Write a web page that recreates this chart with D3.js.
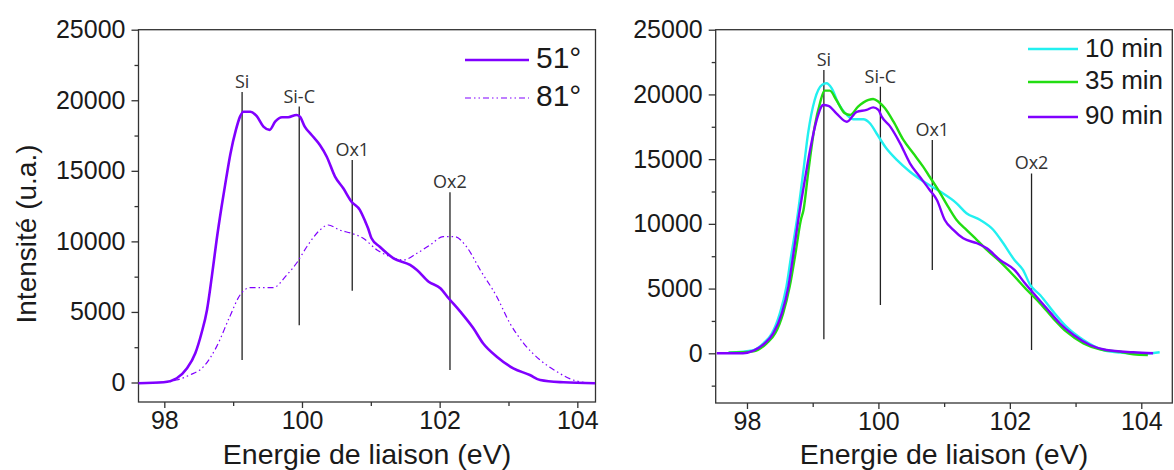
<!DOCTYPE html>
<html>
<head>
<meta charset="utf-8">
<script src="https://cdn.jsdelivr.net/npm/d3@7"></script>
<style>
  html, body { margin: 0; padding: 0; background: #fff; }
  svg { display: block; }
  text { font-family: "Liberation Sans", Arial, sans-serif; fill: #1a1a1a; }
  .annot { font-family: "Open Sans", "Noto Sans", sans-serif; fill: #333; }
</style>
</head>
<body>
<svg id="chart" width="1174" height="470"></svg>
<script>
// ---------- Data ----------
const xTicks = [98, 100, 102, 104];
const xMinorTicks = [99, 101, 103];
const yTicks = [0, 5000, 10000, 15000, 20000, 25000];
const yMinorTicksLeft = [2500, 7500, 12500, 17500, 22500];
const yMinorTicksRight = [-2500, 2500, 7500, 12500, 17500, 22500];

const leftSeriesNames = ["51°", "81°"];
const rightSeriesNames = ["10 min", "35 min", "90 min"];

// Left panel, 51°
const e51 = [97.62, 97.99, 98.18, 98.33, 98.45, 98.54, 98.62, 98.69, 98.76, 98.83, 98.90, 98.96, 99.04, 99.10, 99.15, 99.25, 99.34, 99.44, 99.53, 99.61, 99.71, 99.80, 99.92, 99.97, 100.04, 100.14, 100.26, 100.36, 100.48, 100.60, 100.72, 100.84, 100.92, 100.96, 101.01, 101.13, 101.33, 101.57, 101.67, 101.84, 102.01, 102.13, 102.30, 102.49, 102.63, 102.83, 103.07, 103.31, 103.46, 103.80, 104.26];
const i51 = [-50, 14, 300, 1006, 2070, 3490, 5140, 7500, 10100, 12400, 14500, 16200, 17900, 18840, 19190, 19190, 18890, 18130, 17900, 18480, 18800, 18800, 18960, 18840, 18130, 17540, 16830, 16000, 14590, 13760, 12810, 12230, 11400, 10930, 10220, 9620, 8800, 8330, 7970, 7140, 6680, 5970, 5020, 3840, 2780, 1830, 1006, 530, 177, 14, -57];

// Left panel, 81°
const e81 = [97.62, 97.99, 98.18, 98.37, 98.57, 98.76, 98.95, 99.10, 99.25, 99.58, 99.78, 99.92, 100.07, 100.26, 100.38, 100.55, 100.72, 100.89, 101.09, 101.28, 101.47, 101.67, 101.86, 102.05, 102.22, 102.39, 102.59, 102.83, 103.02, 103.22, 103.46, 103.70, 103.94, 104.23];
const i81 = [-30, 20, 177, 530, 1120, 2540, 4660, 6200, 6720, 6720, 7620, 8450, 9620, 10800, 11160, 10800, 10570, 10220, 9390, 8920, 8680, 9160, 9740, 10330, 10330, 9620, 7970, 6080, 4200, 2780, 1590, 770, 177, -57];

// Right panel, 10 min
const e10 = [97.72, 98.10, 98.25, 98.38, 98.50, 98.60, 98.67, 98.76, 98.86, 98.93, 99.03, 99.14, 99.21, 99.29, 99.39, 99.52, 99.62, 99.77, 99.87, 99.97, 100.12, 100.28, 100.48, 100.73, 100.94, 101.19, 101.34, 101.55, 101.75, 101.90, 102.07, 102.20, 102.31, 102.46, 102.66, 102.86, 103.12, 103.42, 103.68, 103.98, 104.28];
const i10 = [50, 250, 770, 1545, 3090, 5150, 7460, 10300, 14160, 17000, 19570, 20730, 20860, 20470, 19310, 18410, 18080, 18080, 17770, 17000, 15840, 14940, 14030, 13130, 12490, 11590, 10820, 10300, 9530, 8500, 7210, 6440, 5280, 4500, 3220, 2060, 1030, 255, 50, -50, 80];

// Right panel, 35 min
const e35 = [97.72, 98.10, 98.30, 98.43, 98.55, 98.65, 98.73, 98.82, 98.86, 98.93, 99.03, 99.11, 99.18, 99.26, 99.36, 99.49, 99.57, 99.69, 99.85, 99.92, 100.00, 100.10, 100.23, 100.38, 100.53, 100.68, 100.78, 100.91, 101.06, 101.19, 101.34, 101.50, 101.65, 101.85, 102.05, 102.26, 102.46, 102.66, 102.86, 103.12, 103.37, 103.68, 103.88, 104.10];
const i35 = [50, 150, 770, 1545, 3090, 5150, 7460, 10300, 11070, 13900, 17510, 19310, 20290, 20290, 19570, 18540, 18410, 19050, 19570, 19650, 19440, 18930, 17890, 16480, 15450, 14420, 13640, 12620, 11330, 10300, 9530, 8750, 7980, 7080, 6050, 4890, 3860, 2700, 1670, 770, 310, 120, -77, -130];

// Right panel, 90 min
const e90 = [97.54, 97.94, 98.10, 98.27, 98.40, 98.53, 98.63, 98.70, 98.78, 98.88, 98.96, 99.06, 99.16, 99.24, 99.36, 99.52, 99.67, 99.82, 99.92, 100.00, 100.05, 100.18, 100.33, 100.48, 100.63, 100.78, 100.89, 101.01, 101.14, 101.29, 101.50, 101.65, 101.85, 102.07, 102.23, 102.36, 102.56, 102.76, 102.97, 103.22, 103.47, 103.88, 104.18];
const i90 = [0, 0, 200, 770, 1545, 3090, 5150, 7460, 10300, 13390, 15710, 18020, 19180, 19110, 18540, 17890, 18660, 18800, 19000, 18800, 18280, 17510, 16220, 14680, 13640, 12620, 11840, 10300, 9530, 8880, 8500, 8110, 7210, 6440, 5410, 4640, 3480, 2320, 1410, 640, 255, 77, 0];

// Peak markers: label, energy, top and bottom intensity
const peakLabels = ["Si", "Si-C", "Ox1", "Ox2"];
const peakEnergyLeft = [99.13, 99.96, 100.73, 102.15];
const peakTopLeft = [20590, 19550, 15770, 13480];
const peakBottomLeft = [1600, 4050, 6500, 890];
const peakEnergyRight = [99.17, 100.03, 100.82, 102.33];
const peakTopRight = [21890, 20600, 16480, 13900];
const peakBottomRight = [1080, 3730, 6440, 260];

// ---------- Drawing ----------
const svg = d3.select("#chart");
const PURPLE = "#8000ff", CYAN = "#22f0f0", GREEN = "#22dd11";
const TICK_FS = 25;

function makePanel(cfg) {
  const g = svg.append("g");
  const x = d3.scaleLinear().domain(cfg.xDomain).range([cfg.x0, cfg.x1]);
  const y = d3.scaleLinear().domain(cfg.yDomain).range([cfg.y1, cfg.y0]);

  // frame
  g.append("rect").attr("x", cfg.x0).attr("y", cfg.y0)
    .attr("width", cfg.x1 - cfg.x0).attr("height", cfg.y1 - cfg.y0)
    .attr("fill", "none").attr("stroke", "#333").attr("stroke-width", 1.3);

  // x axis
  const xa = g.append("g").attr("transform", `translate(0,${cfg.y1})`)
    .call(d3.axisBottom(x).tickValues(xTicks).tickSize(6).tickPadding(3).tickFormat(d3.format("d")));
  xa.select(".domain").remove();
  xa.selectAll("line").attr("stroke", "#333").attr("stroke-width", 1.3);
  xa.selectAll("text").attr("font-size", TICK_FS).attr("font-family", "Liberation Sans, Arial, sans-serif").attr("fill", "#1a1a1a");
  const xm = g.append("g").attr("transform", `translate(0,${cfg.y1})`)
    .call(d3.axisBottom(x).tickValues(xMinorTicks).tickSize(4).tickFormat(""));
  xm.select(".domain").remove();
  xm.selectAll("line").attr("stroke", "#333").attr("stroke-width", 1.3);

  // y axis
  const ya = g.append("g").attr("transform", `translate(${cfg.x0},0)`)
    .call(d3.axisLeft(y).tickValues(yTicks).tickSize(7).tickPadding(6).tickFormat(d3.format("d")));
  ya.select(".domain").remove();
  ya.selectAll("line").attr("stroke", "#333").attr("stroke-width", 1.3);
  ya.selectAll("text").attr("font-size", TICK_FS).attr("font-family", "Liberation Sans, Arial, sans-serif").attr("fill", "#1a1a1a");
  const ym = g.append("g").attr("transform", `translate(${cfg.x0},0)`)
    .call(d3.axisLeft(y).tickValues(cfg.yMinor).tickSize(4).tickFormat(""));
  ym.select(".domain").remove();
  ym.selectAll("line").attr("stroke", "#333").attr("stroke-width", 1.3);

  // x title
  g.append("text").attr("x", (cfg.x0 + cfg.x1) / 2).attr("y", 464)
    .attr("text-anchor", "middle").attr("font-size", 28.5)
    .text("Energie de liaison (eV)");

  // clip
  const clipId = "clip" + cfg.id;
  svg.append("clipPath").attr("id", clipId).append("rect")
    .attr("x", cfg.x0).attr("y", cfg.y0).attr("width", cfg.x1 - cfg.x0).attr("height", cfg.y1 - cfg.y0);

  const line = d3.line().x(d => x(d[0])).y(d => y(d[1])).curve(d3.curveMonotoneX);
  const plot = g.append("g").attr("clip-path", `url(#${clipId})`);

  // peak markers
  cfg.peakE.forEach((e, k) => {
    plot.append("line").attr("x1", x(e)).attr("x2", x(e))
      .attr("y1", y(cfg.peakTop[k])).attr("y2", y(cfg.peakBottom[k]))
      .attr("stroke", "#222").attr("stroke-width", 1.3);
    g.append("text").attr("class", "annot").attr("x", x(e)).attr("y", y(cfg.peakTop[k]) - 4)
      .attr("text-anchor", "middle").attr("font-size", 18).text(peakLabels[k]);
  });

  cfg.series.forEach(s => {
    plot.append("path").datum(d3.zip(s.e, s.i)).attr("d", line)
      .attr("fill", "none").attr("stroke", s.color).attr("stroke-width", s.width)
      .attr("stroke-dasharray", s.dash || null).attr("stroke-linejoin", "round");
  });

  // legend
  cfg.legend.forEach((l, k) => {
    g.append("line").attr("x1", l.lx0).attr("x2", l.lx1).attr("y1", l.ly).attr("y2", l.ly)
      .attr("stroke", l.color).attr("stroke-width", l.width).attr("stroke-dasharray", l.dash || null);
    g.append("text").attr("x", l.tx).attr("y", l.ty).attr("font-size", l.fs).text(l.name);
  });
  return {x, y};
}

makePanel({
  id: "L", x0: 138.5, x1: 595.5, y0: 29.7, y1: 402,
  xDomain: [97.625, 104.264], yDomain: [-1382, 25000], yMinor: yMinorTicksLeft,
  peakE: peakEnergyLeft, peakTop: peakTopLeft, peakBottom: peakBottomLeft,
  series: [
    {e: e81, i: i81, color: PURPLE, width: 1.2, dash: "6,3,1.5,3,1.5,3"},
    {e: e51, i: i51, color: PURPLE, width: 2.6}
  ],
  legend: [
    {name: leftSeriesNames[0], lx0: 465, lx1: 529, ly: 60, tx: 536, ty: 68, fs: 30, color: PURPLE, width: 2.6},
    {name: leftSeriesNames[1], lx0: 465, lx1: 529, ly: 98, tx: 536, ty: 106, fs: 30, color: PURPLE, width: 1.2, dash: "6,3,1.5,3,1.5,3"}
  ]
});

makePanel({
  id: "R", x0: 715.7, x1: 1172.3, y0: 29.7, y1: 403,
  xDomain: [97.524, 104.472], yDomain: [-3840, 25000], yMinor: yMinorTicksRight,
  peakE: peakEnergyRight, peakTop: peakTopRight, peakBottom: peakBottomRight,
  series: [
    {e: e10, i: i10, color: CYAN, width: 2.4},
    {e: e35, i: i35, color: GREEN, width: 2.4},
    {e: e90, i: i90, color: PURPLE, width: 2.4}
  ],
  legend: [
    {name: rightSeriesNames[0], lx0: 1028, lx1: 1078, ly: 49, tx: 1085, ty: 57, fs: 26, color: CYAN, width: 2.6},
    {name: rightSeriesNames[1], lx0: 1028, lx1: 1078, ly: 82, tx: 1085, ty: 89, fs: 26, color: GREEN, width: 2.6},
    {name: rightSeriesNames[2], lx0: 1028, lx1: 1078, ly: 117, tx: 1085, ty: 124, fs: 26, color: PURPLE, width: 2.6}
  ]
});

// y title (left panel only)
svg.append("text").attr("transform", "translate(36,234) rotate(-90)")
  .attr("text-anchor", "middle").attr("font-size", 28).text("Intensité (u.a.)");
</script>
</body>
</html>
